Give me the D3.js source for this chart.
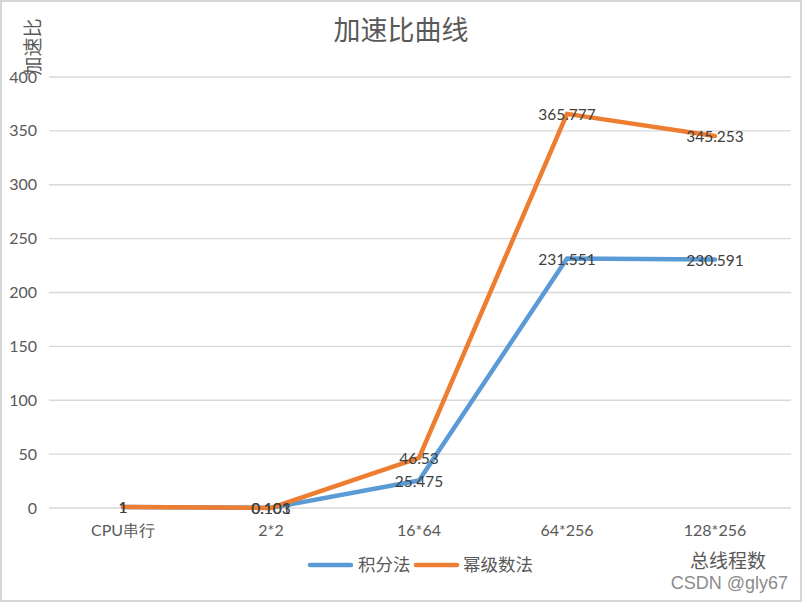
<!DOCTYPE html>
<html><head><meta charset="utf-8">
<script src="https://cdn.jsdelivr.net/npm/d3@7"></script>
<style>html,body{margin:0;padding:0;background:#fff;}</style>
</head><body>
<svg id="c" width="802" height="602"></svg>
<script>
const categories = ["CPU串行","2*2","16*64","64*256","128*256"];
const seriesNames = ["积分法","幂级数法"];
const integralValues = [1, 0.103, 25.475, 231.551, 230.591];
const powerValues = [1, 0.101, 46.53, 365.777, 345.253];
const yTicks = [0,50,100,150,200,250,300,350,400];
const colors = ["#5B9BD5","#ED7D31"];

(function(){
const svg = d3.select("#c");
const W=802,H=602;
svg.append("rect").attr("x",1).attr("y",1).attr("width",W-2).attr("height",H-2)
  .attr("fill","#fff").attr("stroke","#D6D6D6").attr("stroke-width",2);

const pLeft=49,pRight=789,pTop=77,pBottom=508;
const x = d3.scaleBand().domain(categories).range([pLeft,pRight]);
const y = d3.scaleLinear().domain([0,400]).range([pBottom,pTop]);
const cx = c => x(c)+x.bandwidth()/2;
const numFont = "Lato, 'Liberation Sans', sans-serif";
const cjk = "'Noto Sans CJK SC', sans-serif";

svg.append("g").selectAll("line").data(yTicks).join("line")
  .attr("x1",pLeft).attr("x2",791).attr("y1",d=>y(d)).attr("y2",d=>y(d))
  .attr("stroke","#D9D9D9").attr("stroke-width",1.3);

svg.append("g").selectAll("text").data(yTicks).join("text")
  .attr("x",37).attr("y",d=>y(d)).attr("dy","0.35em").attr("text-anchor","end")
  .attr("font-family",numFont).attr("font-size",16).attr("fill","#595959").text(d=>d);

svg.append("g").selectAll("text").data(categories).join("text")
  .attr("x",d=>cx(d)).attr("y",530).attr("dy","0.35em").attr("text-anchor","middle")
  .attr("font-family",numFont).attr("font-size",16).attr("fill","#595959").text(d=>d);

svg.append("text").attr("x",401).attr("y",31).attr("dy","0.35em").attr("text-anchor","middle")
  .attr("font-family",cjk).attr("font-size",27).attr("fill","#595959").text("加速比曲线");

svg.append("text").attr("transform","translate(33,47) rotate(-90)").attr("text-anchor","middle").attr("dy","0.35em")
  .attr("font-family",cjk).attr("font-size",19).attr("fill","#595959").text("加速比");

svg.append("text").attr("x",728).attr("y",561).attr("dy","0.35em").attr("text-anchor","middle")
  .attr("font-family",cjk).attr("font-size",19).attr("fill","#595959").text("总线程数");

const line = d3.line().x((d,i)=>cx(categories[i])).y(d=>y(d));
const allSeries = [integralValues, powerValues];
allSeries.forEach((vals,k)=>{
  svg.append("path").datum(vals).attr("d",line).attr("fill","none")
    .attr("stroke",colors[k]).attr("stroke-width",4.5).attr("stroke-linejoin","round").attr("stroke-linecap","round");
});
allSeries.forEach((vals,k)=>{
  svg.append("g").selectAll("text").data(vals).join("text")
    .attr("x",(d,i)=>cx(categories[i])).attr("y",d=>y(d)+1).attr("dy","0.35em")
    .attr("text-anchor","middle").attr("font-family",numFont).attr("font-size",15.5).attr("fill","#404040")
    .text(d=>d);
});

const lg = svg.append("g");
const legendItems = [{x:310,tx:358},{x:416,tx:463}];
seriesNames.forEach((n,k)=>{
  lg.append("line").attr("x1",legendItems[k].x).attr("x2",legendItems[k].x+41).attr("y1",565).attr("y2",565)
    .attr("stroke",colors[k]).attr("stroke-width",4.5).attr("stroke-linecap","round");
  lg.append("text").attr("x",legendItems[k].tx).attr("y",565).attr("dy","0.35em")
    .attr("font-family",cjk).attr("font-size",17.5).attr("fill","#595959").text(n);
});

svg.append("text").attr("x",788).attr("y",583).attr("dy","0.35em").attr("text-anchor","end")
  .attr("font-family","'Liberation Sans', Arial, sans-serif").attr("font-size",18).attr("fill","#8c8c8c").text("CSDN @gly67");
})();
</script>
</body></html>
